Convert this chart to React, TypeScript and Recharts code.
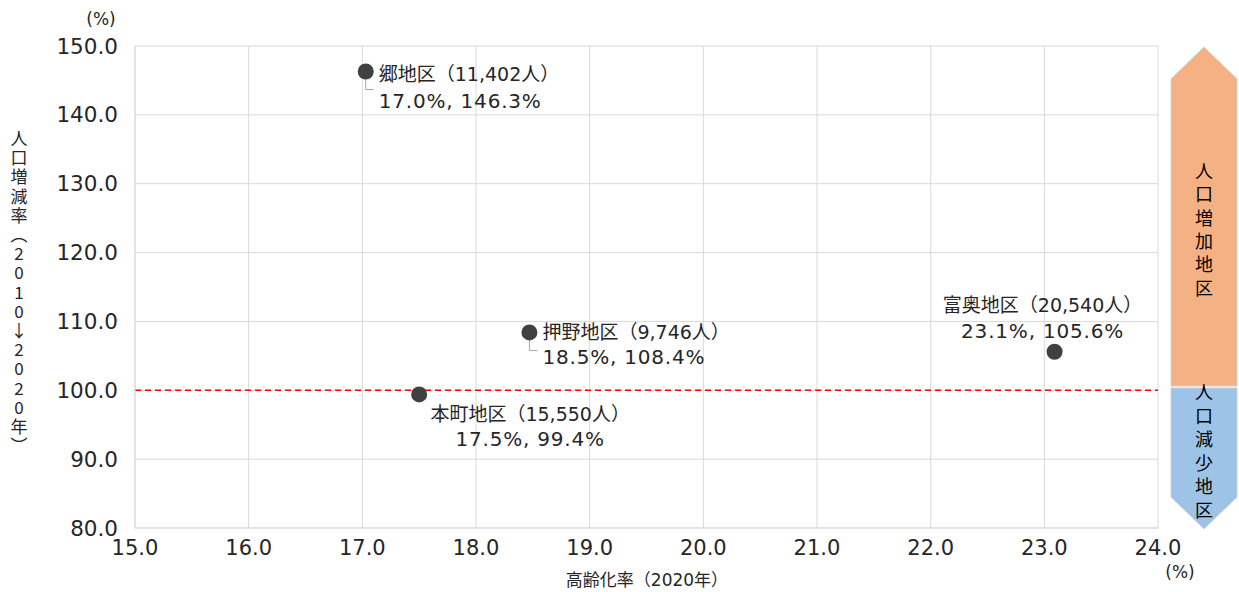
import { ScatterChart, Scatter, XAxis, YAxis, CartesianGrid, ReferenceLine } from 'recharts';

// 地区データ
const districts = ['郷地区', '押野地区', '本町地区', '富奥地区'];
const populations = [11402, 9746, 15550, 20540];
const agingRates = [17.03, 18.47, 17.5, 23.09];
const growthRates = [146.3, 108.4, 99.4, 105.6];

const xTicks = [15, 16, 17, 18, 19, 20, 21, 22, 23, 24];
const yTicks = [80, 90, 100, 110, 120, 130, 140, 150];

const yTitle = ['人', '口', '増', '減', '率', '︵', '2', '0', '1', '0', '↓', '2', '0', '2', '0', '年', '︶'];
const upLabel = ['人', '口', '増', '加', '地', '区'];
const downLabel = ['人', '口', '減', '少', '地', '区'];

const FONT = '"DejaVu Sans", "Noto Sans CJK JP", sans-serif';
const CJK = '"Noto Sans CJK JP", sans-serif';
const TEXT = '#262626';

// label placement per district (layout only)
const placement: Record<string, { dx: number; dy1: number; dy2: number; anchor: 'start' | 'middle'; leader: boolean }> = {
  '郷地区': { dx: 13, dy1: 10, dy2: 37, anchor: 'start', leader: true },
  '押野地区': { dx: 13, dy1: 7, dy2: 32, anchor: 'start', leader: true },
  '本町地区': { dx: 111, dy1: 27, dy2: 52, anchor: 'middle', leader: false },
  '富奥地区': { dx: -12, dy1: -40, dy2: -14, anchor: 'middle', leader: false },
};

const data = districts.map((name, i) => ({
  name,
  pop: populations[i],
  x: agingRates[i],
  y: growthRates[i],
}));

const PointShape = (props: any) => {
  const { cx, cy, payload } = props;
  const p = placement[payload.name];
  const line1 = `${payload.name}（${payload.pop.toLocaleString('en-US')}人）`;
  const line2 = `${payload.x.toFixed(1)}%, ${payload.y.toFixed(1)}%`;
  return (
    <g>
      {p.leader && (
        <polyline
          points={`${cx},${cy + 6} ${cx},${cy + 18} ${cx + 8},${cy + 18}`}
          fill="none"
          stroke="#a6a6a6"
          strokeWidth={1}
        />
      )}
      <circle cx={cx} cy={cy} r={8} fill="#404040" />
      <text x={cx + p.dx} y={cy + p.dy1} textAnchor={p.anchor} fontSize={19} fill={TEXT} fontFamily={FONT}>
        {line1}
      </text>
      <text x={cx + p.dx} y={cy + p.dy2} textAnchor={p.anchor} fontSize={20} letterSpacing={0.8} fill={TEXT} fontFamily={FONT}>
        {line2}
      </text>
    </g>
  );
};

export default function App() {
  return (
    <div style={{ position: 'absolute', left: 0, top: 0, width: 1239, height: 592, background: '#fff' }}>
      <ScatterChart width={1239} height={592} margin={{ top: 46, right: 81, bottom: 0, left: 75 }}>
        <CartesianGrid stroke="#d9d9d9" />
        <XAxis
          type="number"
          dataKey="x"
          domain={[15, 24]}
          ticks={xTicks}
          tickFormatter={(v: number) => v.toFixed(1)}
          tickLine={false}
          tickSize={6}
          tickMargin={6}
          height={64}
          stroke="#d9d9d9"
          tick={{ fill: TEXT, fontSize: 21, fontFamily: FONT }}
          interval={0}
        />
        <YAxis
          type="number"
          dataKey="y"
          domain={[80, 150]}
          ticks={yTicks}
          tickFormatter={(v: number) => v.toFixed(1)}
          tickLine={false}
          tickSize={6}
          tickMargin={11}
          width={60}
          stroke="#d9d9d9"
          tick={{ fill: TEXT, fontSize: 21.5, fontFamily: FONT }}
          interval={0}
        />
        <ReferenceLine y={100} stroke="#ff0000" strokeDasharray="6 4" strokeWidth={1.5} />
        <Scatter data={data} shape={PointShape} isAnimationActive={false} />
      </ScatterChart>
      <svg width={1239} height={592} style={{ position: 'absolute', left: 0, top: 0, pointerEvents: 'none' }}>
        <text x={101} y={25} textAnchor="middle" fontSize={17} fill={TEXT} fontFamily={FONT}>(%)</text>
        <text x={1180} y={578} textAnchor="middle" fontSize={17} fill={TEXT} fontFamily={FONT}>(%)</text>
        <text x={647} y={586} textAnchor="middle" fontSize={17} fill={TEXT} fontFamily={FONT}>高齢化率（2020年）</text>
        {yTitle.map((c, i) => (
          <text key={i} x={19} y={145 + i * 19.2} textAnchor="middle" fontSize={17} fill={TEXT} fontFamily={CJK}>
            {c}
          </text>
        ))}
        <polygon points="1204,47 1237,79 1237,386 1171,386 1171,79" fill="#f4b183" stroke="#d0d0d0" strokeWidth={1} />
        <polygon points="1171,388 1237,388 1237,497 1204,529 1171,497" fill="#9dc3e6" stroke="#d0d0d0" strokeWidth={1} />
        {upLabel.map((c, i) => (
          <text key={i} x={1204} y={178 + i * 23.3} textAnchor="middle" fontSize={18} fill="#000" fontFamily={CJK}>
            {c}
          </text>
        ))}
        {downLabel.map((c, i) => (
          <text key={i} x={1204} y={399 + i * 23.5} textAnchor="middle" fontSize={18} fill="#000" fontFamily={CJK}>
            {c}
          </text>
        ))}
      </svg>
    </div>
  );
}
